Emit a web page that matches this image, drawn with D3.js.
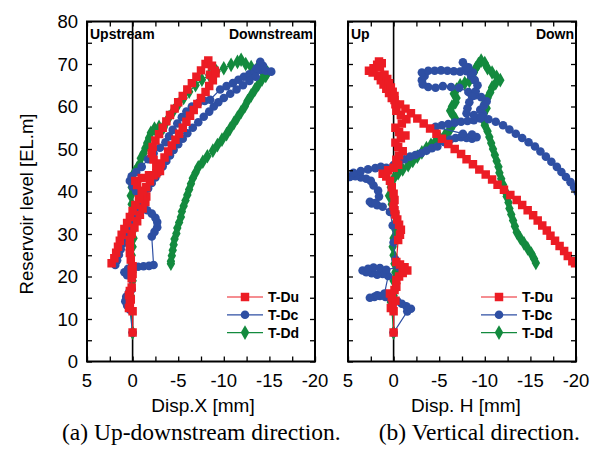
<!DOCTYPE html>
<html>
<head>
  <meta charset="UTF-8">
  <style>
    body { margin: 0; background: #fff; }
    svg { display: block; }
    text { font-family: "Liberation Sans", Arial, sans-serif; }
    .cap { font-family: "Liberation Serif", "Times New Roman", serif; }
  </style>
</head>
<body>
<svg></svg>
<script src="https://d3js.org/d3.v7.min.js"></script>
<script>

let width = 598, height = 450;

// ---- data: [displacement mm, reservoir level EL.m], in time order ----
let seriesNames = ["T-Du", "T-Dc", "T-Dd"];
let xTicks = [5, 0, -5, -10, -15, -20];
let yTicks = [0, 10, 20, 30, 40, 50, 60, 70, 80];

// (a) Disp.X
let leftDu = [[0,6.8],[0,11.8],[0.4,12.6],[0.3,13.6],[0.2,14.6],[0.4,15.6],[0.3,16.6],[0.1,17.4],
  [0.1,19.6],[0,20.6],[0.1,21.6],[0,22.4],[0.2,24],[0.3,25.5],[0.3,27],[0.3,28.6],[0.1,30],[-0.2,31.5],
  [-0.5,33],[-0.8,34.5],[-1.1,36],[-1.4,37.5],[-1.5,38.8],[-1,40.2],[-0.5,41.5],[-0.3,42.5],[-1,43.2],
  [-1.8,43.8],[-2.6,44.3],[-3,44.8],[-2.6,46],[-2.3,47.5],[-2.1,49],[-2.2,50.5],[-2.5,52],[-2.9,53.5],
  [-3.3,55],[-3.7,56.5],[-4.1,58],[-4.6,59.5],[-5,61],[-5.5,62.5],[-6,64],[-6.5,65.5],[-7,67],[-7.5,68.5],
  [-8,70],[-8.3,70.8],[-8.7,69.6],[-9,68.4],[-8.5,67.5],[-9.1,67.8],[-8.8,66.2],[-8.4,64.8],[-8,63.4],
  [-7.5,62],[-7.1,60.6],[-6.7,59.2],[-6.3,57.8],[-5.9,56.4],[-5.5,55],[-5.1,53.6],[-4.7,52.2],[-4.3,50.8],
  [-3.9,49.4],[-3.5,48],[-3.1,46.6],[-2.7,45.2],[-2.3,43.8],[-1.9,42.4],[-1.5,41],[-1.1,39.6],[-0.7,38.2],
  [-0.3,36.8],[0,35.4],[0.3,34],[0.6,32.6],[0.9,31.2],[1.2,29.8],[1.4,28.4],[1.6,27],[1.8,25.6],[2,24.3],[2.3,23.1]];

let leftDc = [[0,6.8],[0.3,12.2],[0.6,13.2],[0.8,14.2],[0.7,15.2],[0.4,16.2],[0.1,17],
  [0.6,20.3],[0.9,21],[0.5,21.8],[0,22.2],[-0.6,22.3],[-1.2,22.4],[-1.8,22.5],[-2.3,22.7],
  [-2.1,29.4],[-2.4,30.5],[-2.7,31.6],[-2.7,32.8],[-2.5,33.8],[-2.1,34.8],[-1.6,35.6],
  [-1.2,37],[-0.8,38.5],[-0.4,40],[0,41.2],[0.3,42.5],[0.1,43.6],[-0.4,44.6],[-1,45.8],[-1.7,47.6],
  [-2.3,49],[-3,50.3],[-3.6,51.6],[-4,53],[-4.4,54.5],[-4.9,56],[-5.4,57.5],[-5.9,58.8],[-6.5,60],
  [-7.2,60.8],[-7.9,61.3],[-8.5,61.6],[-9.6,64],[-10.3,64.8],[-11,65.5],[-11.6,66.3],[-12.2,67],
  [-12.8,67.6],[-13.4,68.2],[-14,68.6],[-14.6,68.4],[-15.2,68.2],[-14.3,69.6],[-14,70.5],[-13.6,69],
  [-13.5,67],[-12.8,66],[-12.1,65],[-11.4,64],[-10.7,63],[-10,62],[-9.4,61],[-8.9,60],[-8.4,58.8],
  [-7.8,57.6],[-7.2,56.3],[-6.6,55],[-6,53.7],[-5.5,52.4],[-5,51.1],[-4.5,49.8],[-4.1,48.5],[-3.7,47.2],
  [-3.3,45.9],[-2.9,44.6],[-2.5,43.3],[-2.1,42],[-1.7,40.7],[-1.3,39.4],[-1,38.1],[-0.7,36.8],[-0.4,35.5],
  [-0.1,34.2],[0.1,32.9],[0.4,31.6],[0.6,30.3],[0.9,29],[1.1,27.7],[1.3,26.4],[1.5,25.1],[1.7,23.8],[1.9,22.7]];

let leftDd = [[0,6.8],[0.2,12.5],[0.3,14],[0.2,15.5],[0.1,17],[0,19],[0,21],[0.1,23],[0.1,25],[0,27],
  [-0.1,29],[-0.1,31],[0,33],[0,35],[0.1,37],[0.2,39],[0.1,41],[0,43],[-0.2,44.5],[-0.5,45.5],[-0.8,46.5],
  [-0.9,47.8],[-1.2,49],[-1.4,50.2],[-1.6,51.4],[-1.8,52.6],[-2,53.8],[-2.4,54.8],[-2.9,55.2],[-3.4,55],
  [-3.6,56],[-4,57.5],[-4.5,59],[-5,60.5],[-5.6,62],[-6.2,63.5],[-6.9,65],[-7.6,66.3],[-8.4,67.4],
  [-9.2,68.3],[-10,69],[-10.8,69.8],[-11.5,70.5],[-11.9,71],[-12.4,70],[-13,69.3],[-13.6,68.8],[-14.2,68.4],
  [-14.8,68],[-14.6,67.2],[-14.2,66.4],[-13.8,65.2],[-13.4,63.9],[-13,62.6],[-12.6,61.3],[-12.3,60],
  [-11.9,58.7],[-11.5,57.4],[-11.1,56.1],[-10.7,54.8],[-10.3,53.5],[-9.8,52.2],[-9.3,50.9],[-8.8,49.6],
  [-8.2,48.3],[-7.7,47],[-7.2,45.7],[-6.9,44.4],[-6.6,43.1],[-6.4,41.8],[-6.2,40.5],[-6,39.2],[-5.8,37.9],
  [-5.6,36.6],[-5.4,35.3],[-5.3,34],[-5.1,32.7],[-4.9,31.4],[-4.8,30.1],[-4.6,28.8],[-4.5,27.5],[-4.4,26.2],
  [-4.3,24.9],[-4.2,23.6],[-4.2,23]];

// (b) Disp. H
let rightDu = [[0,6.8],[0,11.8],[0.3,12.6],[0.1,13.5],[-0.2,14.3],[0.2,15.2],[0.4,16],[-0.1,16.8],[-0.3,17.6],
  [-0.3,19.2],[-0.6,20],[-1,20.8],[-1.5,21.4],[-1.2,22.2],[-0.7,22.8],[-0.3,23.4],
  [-0.5,28.6],[-0.7,29.8],[-0.8,31],[-0.6,32.2],[-0.4,33.4],[-0.2,34.6],[-0.1,35.6],[0,36.5],[-0.1,38],
  [0,39.5],[0.2,41],[0.4,42.5],[0.8,43.5],[1.2,44.2],[0.6,45],[0,45.6],[-0.5,46.3],[-0.3,47.5],[-0.6,48.5],
  [-1,49.5],[-0.5,50.5],[-0.2,51.5],[-0.8,52.5],[-1.3,53.2],[-0.6,54],[-0.2,55],[-0.9,56],[-1.4,57],
  [-0.8,58],[-0.3,59],[-0.2,60.5],[0.2,62],[0.5,63.2],[0.8,64.2],[1.1,65.2],[1.4,66.2],[1.7,67.2],[2.3,68],
  [2.7,68.4],[2.2,69],[1.8,69.8],[1.6,70.6],[1.3,70.2],[1.5,69.2],[1,67.5],[0.7,66.5],[0.5,65.5],[0.3,64.5],
  [0.1,63.5],[-0.1,62.5],[-0.1,61.5],[-0.7,60.5],[-1.3,59.5],[-1.9,58.4],[-2.6,57.2],[-3.3,56],[-4,54.8],
  [-4.7,53.6],[-5.3,52.4],[-6,51.2],[-6.7,50],[-7.4,48.8],[-8,47.6],[-8.7,46.4],[-9.4,45.2],[-10.1,44],
  [-10.8,42.8],[-11.4,41.6],[-12.1,40.4],[-12.8,39.2],[-13.5,38],[-14.1,36.8],[-14.7,35.6],[-15.3,34.4],
  [-15.8,33.2],[-16.3,32],[-16.8,30.8],[-17.2,29.6],[-17.7,28.4],[-18.2,27.2],[-18.7,26],[-19.1,24.8],
  [-19.6,23.6],[-19.9,23.1]];

let rightDc = [[0,6.8],[-1.5,11.8],[-1.9,12.4],[-1.4,13],[-0.9,13.6],[-0.4,14.2],[0.3,14.8],[0.9,15.2],
  [1.5,15.4],[2.1,15.2],[2.6,15],[1.8,15.6],[1,16],
  [0.6,20.1],[1.2,20.6],[1.8,20.4],[2.4,20.8],[3,21],[3.4,21.4],[2.8,21.8],[2.2,22.1],[1.5,22],[0.8,21.6],
  [-0.6,22.2],[-0.2,24],[0,28],[0.1,32],[0.4,35.2],
  [1.2,36.4],[1.8,36.8],[2.4,37.2],[2.6,37.6],[2,37.3],[1.6,38.8],[1.7,40.2],[2.2,41.4],[2.5,42.5],[3,43],
  [3.6,43.3],[4.2,43.6],[4.8,43.4],[5.3,43.8],[4.4,44.4],[3.6,44.8],[2.8,45.2],[2,45.5],[1.4,45.8],[0.8,45.6],
  [0,46.2],[-0.6,47],[-1.2,47.6],[-1.8,48.2],[-2.4,48.6],[-3,49],[-3.6,49.6],[-4.2,50.2],[-4.8,50.6],
  [-5.6,51.6],[-6.2,52.2],[-6.8,52.6],[-7.4,52.8],[-8,52.6],[-8.6,52.4],[-9.1,52.8],[-8.6,53.4],[-7.6,53.6],
  [-4.6,55.2],[-5.3,55.6],[-6,55.9],[-6.7,56.2],[-7.4,56.4],[-8.1,56.6],[-8.8,56.8],[-9.5,57.2],[-9.8,58.2],
  [-9.5,59.2],[-9.9,60.2],[-10.2,61.2],[-9.6,62.2],[-8.9,62.6],[-8.2,63.4],[-7.2,64.4],[-6.3,64.6],
  [-5.4,64.8],[-4.6,64.4],[-3.8,64.6],[-3.2,65.2],[-3.1,66.2],[-3.4,67.2],[-3.1,68],[-3.8,68.4],[-4.5,68.4],
  [-5.2,68.5],[-5.9,68.4],[-6.6,68.3],[-7.3,68.2],[-8,68.3],[-8.7,68],[-8.2,69.2],[-7.6,70.4],[-7.9,69.2],
  [-8.5,67.2],[-8.9,66.2],[-9.2,65],[-9,63.6],[-8.6,62.4],[-8.3,61],[-8.1,59.6],[-8,58.4],
  [-8.8,58],[-9.6,57.5],[-10.4,57],[-11.2,56.4],[-12,55.6],[-12.7,54.6],[-13.4,53.6],[-14.1,52.6],
  [-14.8,51.6],[-15.5,50.6],[-16.1,49.4],[-16.7,48.2],[-17.3,47],[-17.9,45.8],[-18.4,44.6],[-18.9,43.4],
  [-19.4,42.2],[-19.8,41],[-20.2,39.8]];

let rightDd = [[0,6.8],[0.2,12.5],[0.3,14],[0,15.5],[-0.2,17],[0,19],[-0.2,21],[-0.1,23],[0,25],[0.1,27],
  [0,29],[-0.2,31],[-0.3,33],[-0.2,35],[0.2,37],[0.5,39],[0.3,41],[0,43],[-0.5,44.3],[-1,45.2],[-1.6,46.2],
  [-2.1,47.2],[-2.6,48.2],[-3.1,49.2],[-3.6,50.2],[-4.1,51],[-4.6,51.8],[-5.1,52.5],[-5.6,53.2],[-6,54],
  [-6.3,55],[-6.6,56],[-6.8,57],[-6.5,58],[-6.2,59],[-6.4,60],[-6.8,61],[-6.9,62],[-6.6,63],[-6.9,64],
  [-7.3,65],[-7.8,65.5],[-8.3,66],[-8.6,67],[-8.8,68],[-9,69],[-9.3,70],[-9.6,70.8],[-10,70.2],[-10.3,69],
  [-10.8,68],[-11.3,67],[-11.7,66.2],[-11.2,65.5],[-10.8,64.5],[-10.6,63.3],[-10.3,62],[-10,60.8],
  [-10.2,59.6],[-9.9,58.4],[-9.8,57],[-10,55.6],[-10.3,54.2],[-10.5,52.8],[-10.7,51.4],[-10.9,50],
  [-11.1,48.6],[-11.3,47.2],[-11.5,45.8],[-11.6,44.4],[-11.8,43],[-12,41.6],[-12.2,40.2],[-12.4,38.8],
  [-12.6,37.4],[-12.7,36],[-12.9,34.6],[-13.1,33.2],[-13.3,31.8],[-13.5,30.4],[-13.9,29],[-14.3,27.8],
  [-14.7,26.6],[-15.1,25.4],[-15.4,24.2],[-15.6,23.2]];

let colors = {"T-Du": "#ec1c24", "T-Dc": "#2e4fa3", "T-Dd": "#138a3e"};
let symbols = {"T-Du": d3.symbolSquare, "T-Dc": d3.symbolCircle, "T-Dd": d3.symbolDiamond};
let symSize = {"T-Du": 72, "T-Dc": 58, "T-Dd": 62};

let svg = d3.select("svg")
    .attr("width", width)
    .attr("height", height);

let plotTop = 21.5, plotBottom = 361.5;
let y = d3.scaleLinear().domain([0, 80]).range([plotBottom, plotTop]);

let panels = [
  {id: "a", x0: 87, x1: 315, data: {"T-Du": leftDu, "T-Dc": leftDc, "T-Dd": leftDd},
   title: "Disp.X [mm]", lt: "Upstream", rt: "Downstream", legX: 245},
  {id: "b", x0: 348, x1: 576, data: {"T-Du": rightDu, "T-Dc": rightDc, "T-Dd": rightDd},
   title: "Disp. H [mm]", lt: "Up", rt: "Down", legX: 499}
];

panels.forEach(p => {
  let x = d3.scaleLinear().domain([5, -20]).range([p.x0, p.x1]);
  let g = svg.append("g");

  g.append("clipPath").attr("id", "clip" + p.id)
    .append("rect")
    .attr("x", p.x0).attr("y", plotTop)
    .attr("width", p.x1 - p.x0).attr("height", plotBottom - plotTop);

  // zero line
  g.append("line")
    .attr("x1", x(0)).attr("x2", x(0))
    .attr("y1", plotTop).attr("y2", plotBottom)
    .attr("stroke", "black").attr("stroke-width", 1.6);

  let plot = g.append("g").attr("clip-path", "url(#clip" + p.id + ")");
  ["T-Dd", "T-Dc", "T-Du"].forEach(name => {
    let pts = p.data[name];
    plot.append("path")
      .datum(pts)
      .attr("fill", "none")
      .attr("stroke", colors[name])
      .attr("stroke-width", 1.2)
      .attr("d", d3.line().x(d => x(d[0])).y(d => y(d[1])));
    plot.selectAll(null)
      .data(pts)
      .enter()
      .append("path")
      .attr("transform", d => "translate(" + x(d[0]) + "," + y(d[1]) + ")")
      .attr("d", d3.symbol().type(symbols[name]).size(symSize[name]))
      .attr("fill", colors[name]);
  });

  // axes (ticks inward, mirrored)
  let minorX = d3.range(5, -20.1, -2.5);
  let minorY = d3.range(0, 80.1, 5);
  g.append("g").attr("transform", "translate(0," + plotBottom + ")")
    .call(d3.axisTop(x).tickValues(minorX).tickSize(5).tickFormat(""));
  g.append("g").attr("transform", "translate(0," + plotTop + ")")
    .call(d3.axisBottom(x).tickValues(minorX).tickSize(5).tickFormat(""));
  g.append("g").attr("transform", "translate(" + p.x0 + ",0)")
    .call(d3.axisRight(y).tickValues(minorY).tickSize(5).tickFormat(""));
  g.append("g").attr("transform", "translate(" + p.x1 + ",0)")
    .call(d3.axisLeft(y).tickValues(minorY).tickSize(5).tickFormat(""));
  g.selectAll(".domain").remove();
  g.selectAll(".tick line").attr("stroke", "black").attr("stroke-width", 1.3);

  g.append("rect")
    .attr("x", p.x0).attr("y", plotTop)
    .attr("width", p.x1 - p.x0).attr("height", plotBottom - plotTop)
    .attr("fill", "none").attr("stroke", "black").attr("stroke-width", 2);

  // tick labels
  g.selectAll(".xl")
    .data(xTicks)
    .enter()
    .append("text")
    .attr("x", d => x(d))
    .attr("y", 387)
    .attr("text-anchor", "middle")
    .attr("font-size", "18.5px")
    .text(d => d);

  g.append("text")
    .attr("x", (p.x0 + p.x1) / 2 + (p.id == "a" ? 2 : 4))
    .attr("y", 412)
    .attr("text-anchor", "middle")
    .attr("font-size", "19px")
    .text(p.title);

  g.append("text")
    .attr("x", p.x0 + 3).attr("y", 39)
    .attr("font-size", "14px").attr("font-weight", "bold")
    .text(p.lt);
  g.append("text")
    .attr("x", p.x1 - 2).attr("y", 39)
    .attr("text-anchor", "end")
    .attr("font-size", "14px").attr("font-weight", "bold")
    .text(p.rt);

  // legend
  let leg = g.selectAll(".leg")
    .data(seriesNames)
    .enter()
    .append("g")
    .attr("transform", (d, i) => "translate(" + p.legX + "," + (297 + i * 17.8) + ")");
  leg.append("line")
    .attr("x1", -18).attr("x2", 18)
    .attr("stroke", d => colors[d]).attr("stroke-width", 1.2);
  leg.append("path")
    .attr("d", d => d3.symbol().type(symbols[d]).size(symSize[d])())
    .attr("fill", d => colors[d]);
  leg.append("text")
    .attr("x", 23).attr("y", 5)
    .attr("font-size", "14px").attr("font-weight", "bold")
    .text(d => d);
});

// y axis labels (left panel only)
svg.selectAll(".yl")
  .data(yTicks)
  .enter()
  .append("text")
  .attr("x", 78)
  .attr("y", d => y(d) + 6.5)
  .attr("text-anchor", "end")
  .attr("font-size", "18.5px")
  .text(d => d);

svg.append("text")
  .attr("transform", "translate(33,204) rotate(-90)")
  .attr("text-anchor", "middle")
  .attr("font-size", "18.5px")
  .text("Reservoir level [EL.m]");

svg.append("text")
  .attr("class", "cap")
  .attr("x", 62).attr("y", 440)
  .attr("font-size", "23.5px")
  .text("(a) Up-downstream direction.");
svg.append("text")
  .attr("class", "cap")
  .attr("x", 580).attr("y", 440)
  .attr("text-anchor", "end")
  .attr("font-size", "23.5px")
  .text("(b) Vertical direction.");

</script>
</body>
</html>
